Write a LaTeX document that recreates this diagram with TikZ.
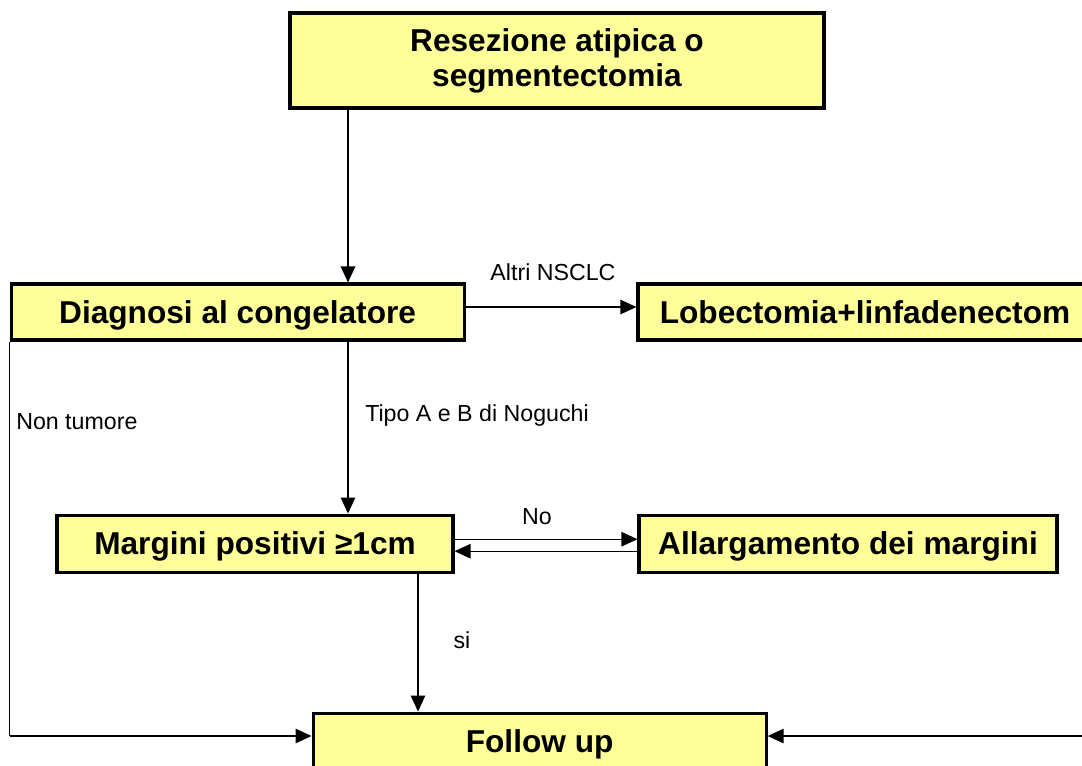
\documentclass[tikz,border=0pt]{standalone}
\usepackage{fontspec}
\setmainfont{Liberation Sans}
\usetikzlibrary{arrows.meta}
\definecolor{boxfill}{HTML}{FFFF99}
\tikzset{
	box/.style={draw, line width=2.2pt, fill=boxfill, inner sep=0pt, align=center,
		font=\bfseries\fontsize{22.5}{25}\selectfont},
	onerow/.style={box, text height=21pt, text depth=5pt},
	lbl/.style={inner sep=0pt, font=\fontsize{16.5}{19}\selectfont},
	arr/.style={line width=1pt, -{Triangle[length=4mm,width=3.6mm]}}
}

\begin{document}
\begin{tikzpicture}
			%%%%% START %%%%%
			\useasboundingbox (0, 0) rectangle (27.05, -19.125);
			\clip (0, 0) rectangle (27.05, -19.125);
			
			\node[box, minimum width=13.35cm, minimum height=2.375cm] (resez) at (13.925, -1.5125) {Resezione atipica o\\segmentectomia};
			\node[onerow, minimum width=11.325cm, minimum height=1.4cm] (diag) at (5.94, -7.8) {Diagnosi al congelatore};
			\node[onerow, minimum width=11.35cm, minimum height=1.4cm] (lobect) at (21.625, -7.8) {Lobectomia+linfadenectom};
			\node[onerow, minimum width=9.9cm, minimum height=1.425cm] (margini) at (6.375, -13.59) {Margini positivi ≥1cm};
			\node[onerow, minimum width=10.45cm, minimum height=1.425cm] (allarg) at (21.2, -13.59) {Allargamento dei margini};
			\node[onerow, minimum width=11.325cm, minimum height=1.425cm] (follow) at (13.49, -18.54) {Follow up};
			\coordinate (destra) at (27.3, -18.4);
			\coordinate (sinistra) at (diag.south west |- destra);
			
			\draw[arr] (resez.south -| 8.7, 0) -- (diag.north -| 8.7, 0);
			\draw[arr] ([yshift=1.25mm]diag.east) -- ([yshift=1.25mm]lobect.west);
			\node[lbl] (altri) at (13.825, -6.8) {Altri NSCLC};
			
			\draw[arr] (diag.south -| 8.7, 0) -- (margini.north -| 8.7, 0);
			\node[lbl] (tipo) at (11.925, -10.375) {Tipo A e B di Noguchi};
			
			\draw[line width=1pt] (diag.south west) -- (sinistra);
			\draw[arr] (sinistra) -- (follow.west |- sinistra);
			\node[lbl, anchor=west] (nontum) at (0.4, -10.55) {Non tumore};
			
			\draw[arr] ([yshift=1.1mm]margini.east) -- ([yshift=1.1mm]allarg.west);
			\draw[arr] ([yshift=-1.9mm]allarg.west) -- ([yshift=-1.9mm]margini.east);
			\node[lbl] (no) at (13.425, -12.925) {No};
			
			\draw[arr] (margini.south -| 10.45, 0) -- (follow.north -| 10.45, 0);
			\node[lbl] (si) at (11.55, -16) {si};
			
			\draw[arr] (destra) -- (follow.east |- destra);
			%%%%% END %%%%%
\end{tikzpicture}
\end{document}
